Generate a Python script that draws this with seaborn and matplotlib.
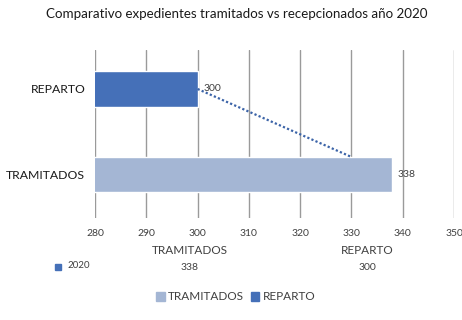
import matplotlib
matplotlib.use("Agg")
import matplotlib.pyplot as plt
import seaborn as sns
import pandas as pd
from matplotlib.patches import Patch

categories = ["REPARTO", "TRAMITADOS"]
values = [300, 338]
trend_x = [300, 330]
xticks = [280, 290, 300, 310, 320, 330, 340, 350]
table_year = "2020"
title = "Comparativo expedientes tramitados vs recepcionados año 2020"

colors = {"REPARTO": "#4570b8", "TRAMITADOS": "#a4b6d4"}
text_color = "#404040"

sns.set_theme(style="white")
plt.rcParams["font.family"] = ["Lato", "DejaVu Sans"]

df = pd.DataFrame({"categoria": categories, "valor": values})

W, H = 462, 320
fig = plt.figure(figsize=(W / 100, H / 100), dpi=100)
# plot area: x 95..454 px, y 50..218 px
ax = fig.add_axes([95 / W, 1 - 218 / H, (454 - 95) / W, (218 - 50) / H])

sns.barplot(data=df, y="categoria", x="valor", hue="categoria",
            palette=colors, orient="h", width=0.41, ax=ax, legend=False,
            saturation=1)

ax.set_xlim(280, 350)
ax.set_ylim(1.509, -0.456)
ax.set_xticks(xticks)
ax.set_xticklabels([])
ax.tick_params(axis="x", length=0)
ax.tick_params(axis="y", length=0, labelsize=8.8, labelcolor="#1a1a1a", pad=7)
ax.set_xlabel("")
ax.set_ylabel("")
for s in ax.spines.values():
    s.set_visible(False)
ax.grid(axis="x", color="#9a9a9a", linewidth=1.0)
ax.set_axisbelow(True)

# tick labels below the plot area
for t in xticks:
    ax.annotate(str(t), xy=(t, 0), xycoords=("data", "axes fraction"),
                xytext=(0, -11), textcoords="offset points",
                ha="center", va="center", fontsize=7.5, color=text_color)

# value labels
for i, (c, v) in enumerate(zip(categories, values)):
    ax.annotate(str(v), xy=(v, i), xytext=(4, 0), textcoords="offset points",
                ha="left", va="center", fontsize=7.5, color=text_color)

# dotted trend connector
bar_h = 0.41
ax.plot(trend_x, [0, 1 - bar_h / 2], linestyle=(0, (1, 1)), color="#3c64a8",
        linewidth=1.6)

# data table
fig.text(190 / W, 1 - 250 / H, categories[1], ha="center", va="center",
         fontsize=8.5, color=text_color)
fig.text(367 / W, 1 - 250 / H, categories[0], ha="center", va="center",
         fontsize=8.5, color=text_color)
fig.text(190 / W, 1 - 267 / H, str(values[1]), ha="center", va="center",
         fontsize=7.5, color=text_color)
fig.text(367 / W, 1 - 267 / H, str(values[0]), ha="center", va="center",
         fontsize=7.5, color=text_color)
fig.patches.append(plt.Rectangle((55 / W, 1 - 270 / H), 6 / W, 6 / H,
                                 transform=fig.transFigure,
                                 color=colors["REPARTO"]))
fig.text(67 / W, 1 - 265 / H, table_year, ha="left", va="center",
         fontsize=7, color=text_color)

fig.text(237 / W, 1 - 14 / H, title, ha="center", va="center",
         fontsize=9.6, color="#1a1a1a")

handles = [Patch(color=colors["TRAMITADOS"], label="TRAMITADOS"),
           Patch(color=colors["REPARTO"], label="REPARTO")]
fig.legend(handles=handles, loc="center", bbox_to_anchor=(236 / W, 1 - 297 / H),
           ncol=2, frameon=False, fontsize=8.5, handlelength=0.7,
           handleheight=0.7, handletextpad=0.3, columnspacing=0.6,
           labelcolor=text_color)

fig.savefig("out.png", dpi=100)
